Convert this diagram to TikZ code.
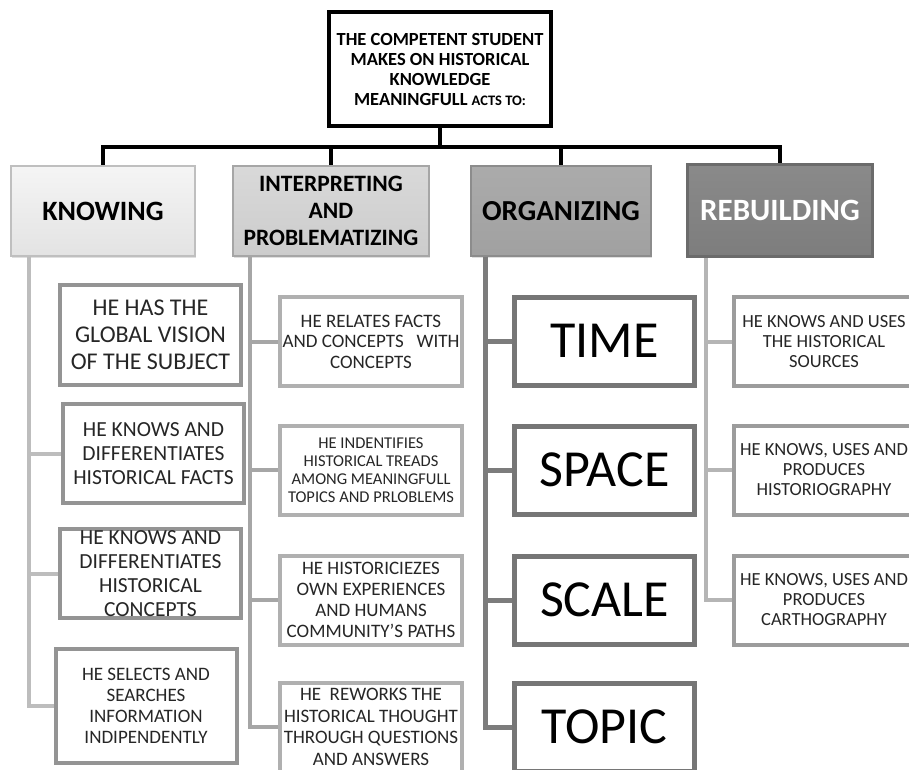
\documentclass[tikz,border=0pt]{standalone}
\usepackage{fontspec}
\setmainfont{Carlito}
\usepackage{tikz}
\usetikzlibrary{shapes,arrows,positioning,shadows}
\definecolor{knowline}{HTML}{949494}
\definecolor{knowspine}{HTML}{BDBDBD}
\definecolor{interline}{HTML}{B0B0B0}
\definecolor{interspine}{HTML}{A6A6A6}
\definecolor{orgline}{HTML}{767676}
\definecolor{orgspine}{HTML}{7C7C7C}
\definecolor{rebline}{HTML}{9C9C9C}
\definecolor{rebspine}{HTML}{B5B5B5}
\tikzstyle{head} = [draw=black, line width=4pt, rectangle, fill=white, align=center,
    font=\bfseries\fontsize{18.5}{20}\selectfont, minimum width=222pt, minimum height=114pt, inner sep=0pt]
\tikzstyle{category} = [draw, rectangle, line width=1.5pt, align=center, inner sep=0pt,
    minimum height=90pt, drop shadow={opacity=0.25, shadow xshift=1pt, shadow yshift=-1.5pt}]
\tikzstyle{knowbox} = [draw=knowline, line width=4pt, fill=white, align=center, text=black!85,
    minimum width=181pt, inner sep=0pt]
\tikzstyle{interbox} = [draw=interline, line width=4pt, fill=white, align=center, text=black!85,
    minimum width=182pt, minimum height=89pt, inner sep=0pt]
\tikzstyle{orgbox} = [draw=orgline, line width=5pt, fill=white, align=center, text=black,
    minimum width=180pt, minimum height=88pt, inner sep=0pt, font=\fontsize{52}{56}\selectfont]
\tikzstyle{rebbox} = [draw=rebline, line width=4pt, fill=white, align=center, text=black!85,
    minimum width=180pt, minimum height=89pt, inner sep=0pt, font=\fontsize{18.5}{20}\selectfont]
\tikzstyle{trunk} = [draw, black, line width=4.5pt]
\tikzstyle{kline} = [draw, knowspine, line width=4pt]
\tikzstyle{iline} = [draw, interspine, line width=4pt]
\tikzstyle{oline} = [draw, orgspine, line width=5pt]
\tikzstyle{rline} = [draw, rebspine, line width=4pt]

\begin{document}
\begin{tikzpicture}[x=1pt, y=-1pt]
    \clip (0,0) rectangle (909,769);
    \fill[white] (0,0) rectangle (909,769);
    % head of the tree
    \node [head] (student) at (440,69) {THE COMPETENT STUDENT\\ MAKES ON HISTORICAL\\ KNOWLEDGE\\ MEANINGFULL {\fontsize{14.5}{20}\selectfont ACTS TO:}};
    % the four acts
    \node [category, draw=black!25, top color=black!4, bottom color=black!11, minimum width=184pt,
        font=\bfseries\fontsize{28}{30}\selectfont] (knowing) at (103,211) {KNOWING};
    \node [category, draw=black!35, top color=black!15, bottom color=black!20, minimum width=196pt,
        font=\bfseries\fontsize{23.5}{27}\selectfont] (interpreting) at (331,211) {INTERPRETING\\ AND\\ PROBLEMATIZING};
    \node [category, draw=black!45, top color=black!33, bottom color=black!37, minimum width=180pt,
        font=\bfseries\fontsize{29}{31}\selectfont] (organizing) at (561,211) {ORGANIZING};
    \node [category, draw=black!58, line width=3pt, top color=black!46, bottom color=black!51, minimum width=185pt,
        minimum height=92pt, text=white, font=\bfseries\fontsize{31}{33}\selectfont] (rebuilding) at (780,210.5) {REBUILDING};
    % knowing
    \node [knowbox, minimum height=100pt, font=\fontsize{24}{27}\selectfont] (know1) at (150.5,335) {HE HAS THE\\ GLOBAL VISION\\ OF THE SUBJECT};
    \node [knowbox, minimum height=99pt, font=\fontsize{21.5}{24}\selectfont] (know2) at (153.5,453.5) {HE KNOWS AND\\ DIFFERENTIATES\\ HISTORICAL FACTS};
    \node [knowbox, minimum height=89pt, inner ysep=-2pt, font=\fontsize{21.5}{24}\selectfont] (know3) at (150.5,573.5) {HE KNOWS AND\\ DIFFERENTIATES\\ HISTORICAL\\ CONCEPTS};
    \node [knowbox, minimum height=114pt, font=\fontsize{19}{21}\selectfont] (know4) at (146,706) {HE SELECTS AND\\ SEARCHES\\ INFORMATION\\ INDIPENDENTLY};
    % interpreting and problematizing
    \node [interbox, font=\fontsize{19}{20.5}\selectfont] (inter1) at (371,341.5) {HE RELATES FACTS\\ AND CONCEPTS\ \ \ WITH\\ CONCEPTS};
    \node [interbox, below of=inter1, node distance=128.5pt, font=\fontsize{16.5}{18}\selectfont] (inter2) {HE INDENTIFIES\\ HISTORICAL TREADS\\ AMONG MEANINGFULL\\ TOPICS AND PRLOBLEMS};
    \node [interbox, below of=inter2, node distance=130pt, font=\fontsize{19}{21}\selectfont] (inter3) {HE HISTORICIEZES\\ OWN EXPERIENCES\\ AND HUMANS\\ COMMUNITY'S PATHS};
    \node [interbox, below of=inter3, node distance=127pt, font=\fontsize{19}{21.5}\selectfont] (inter4) {HE\ \ REWORKS THE\\ HISTORICAL THOUGHT\\ THROUGH QUESTIONS\\ AND ANSWERS};
    % organizing
    \node [orgbox] (time) at (604.5,341) {TIME};
    \node [orgbox, below of=time, node distance=129pt] (space) {SPACE};
    \node [orgbox, below of=space, node distance=130pt] (scale) {SCALE};
    \node [orgbox, below of=scale, node distance=127pt] (topic) {TOPIC};
    % rebuilding
    \node [rebbox] (sources) at (824,341.5) {HE KNOWS AND USES\\ THE HISTORICAL\\ SOURCES};
    \node [rebbox, below of=sources, node distance=128.5pt] (historiography) {HE KNOWS, USES AND\\ PRODUCES\\ HISTORIOGRAPHY};
    \node [rebbox, below of=historiography, node distance=130pt] (carthography) {HE KNOWS, USES AND\\ PRODUCES\\ CARTHOGRAPHY};
    % tree
    \path [trunk] (student.south) -- ++(0,19) -| (knowing.north);
    \path [trunk] (student.south) -- ++(0,19) -| (interpreting.north);
    \path [trunk] (student.south) -- ++(0,19) -| (organizing.north);
    \path [trunk] (student.south) -- ++(0,19) -| (rebuilding.north);
    \path [kline] ([xshift=19pt]knowing.south west) |- (know2.west);
    \path [kline] ([xshift=19pt]knowing.south west) |- (know3.west);
    \path [kline] ([xshift=19pt]knowing.south west) |- (know4.west);
    \path [iline] ([xshift=18pt]interpreting.south west) |- (inter1.west);
    \path [iline] ([xshift=18pt]interpreting.south west) |- (inter2.west);
    \path [iline] ([xshift=18pt]interpreting.south west) |- (inter3.west);
    \path [iline] ([xshift=18pt]interpreting.south west) |- (inter4.west);
    \path [oline] ([xshift=15pt]organizing.south west) |- (time.west);
    \path [oline] ([xshift=15pt]organizing.south west) |- (space.west);
    \path [oline] ([xshift=15pt]organizing.south west) |- (scale.west);
    \path [oline] ([xshift=15pt]organizing.south west) |- (topic.west);
    \path [rline] ([xshift=20pt]rebuilding.south west) |- (sources.west);
    \path [rline] ([xshift=20pt]rebuilding.south west) |- (historiography.west);
    \path [rline] ([xshift=20pt]rebuilding.south west) |- (carthography.west);
\end{tikzpicture}
\end{document}
